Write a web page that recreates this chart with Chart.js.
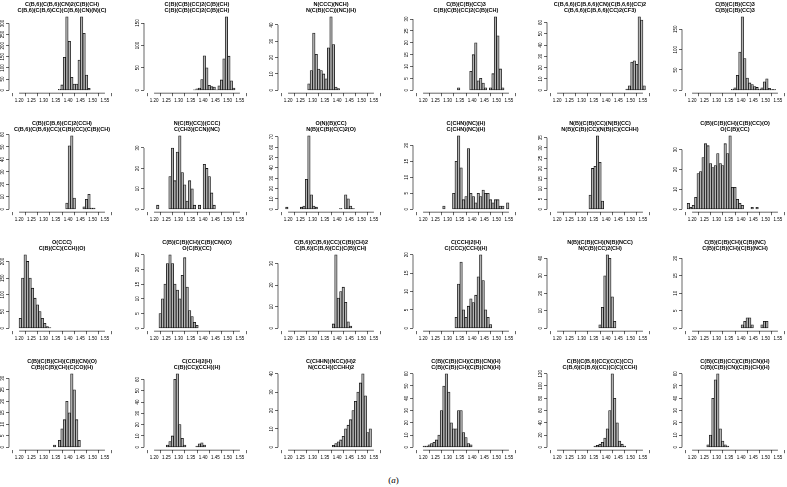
<!DOCTYPE html>
<html>
<head>
<meta charset="utf-8">
<script src="https://cdn.jsdelivr.net/npm/chart.js@4.4.0/dist/chart.umd.min.js"></script>
<style>
  html, body { margin: 0; padding: 0; background: #fff; }
  body { width: 787px; height: 487px; overflow: hidden; position: relative; }
  .panel { position: absolute; width: 134px; height: 118px; }
  #tag { position: absolute; left: 0; top: 475px; width: 787px; text-align: center;
         font: 9px "Liberation Serif", serif; color: #000; }
</style>
</head>
<body>
<div id="tag">(<i>a</i>)</div>
<script>
// bond length axis, bins are 0.01 wide
const xTicks = [1.20, 1.25, 1.30, 1.35, 1.40, 1.45, 1.50, 1.55];
const binWidth = 0.01;

const titles = [
  ['C(B,6)(C(B,6)(CN)2(C(B)(CH)', 'C(B,6)(C(B,6)CC)(C(B,6)(CN)(N)(C)'],
  ['C(B)(C(B)(CC)2(C(B)(CH)', 'C(B)(C(B)(CC)2(C(B)(CH)'],
  ['N(CCC)(NCH)', 'N(C(B)(CC))(NC)(H)'],
  ['C(B)(C(B)(CC)3', 'C(B)(C(B)(CC)2(C(B)(CH)'],
  ['C(B,6,6)(C(B,6,6)(CN)(C(B,6,6)(CC)2', 'C(B,6,6)(C(B,6,6)(CC)2(CF3)'],
  ['C(B)(C(B)(CC)3', 'C(B)(C(B)(CC)3'],
  ['C(B)(C(B,6)(CC)2(CCH)', 'C(B,6)(C(B,6)(CC)(C(B)(CC)(C(B)(CH)'],
  ['N(C(B)(CC))(CCC)', 'C(CH3)(CCN)(NC)'],
  ['O(N)(B)(CC)', 'N(B)(C(B)(C(C)2(O)'],
  ['C(CHN)(NC)(H)', 'C(CHN)(NC)(H)'],
  ['N(B)(C(B)(CC)(N(B)(CC)', 'N(B)(C(B)(CC)(N(B)(C)(CCHH)'],
  ['C(B)(C(B)(CH)(C(B)(CC)(O)', 'O(C(B)(CC)'],
  ['O(CCC)', 'C(B)(CC)(CCH)(O)'],
  ['C(B)(C(B)(CH)(C(B)(CN)(O)', 'O(C(B)(CC)'],
  ['C(B,6)(C(B,6)(CC)(C(B)(CH)2', 'C(B,6)(C(B,6)(CC)(C(B)(CH)'],
  ['C(CCH)2(H)', 'C(CCC)(CCH)(H)'],
  ['N(B)(C(B)(CH)(N(B)(NCC)', 'N(C(B)(CC)2(CH)'],
  ['C(B)(C(B)(CH)(C(B)(NC)', 'C(B)(C(B)(CH)(C(B)(NCH)'],
  ['C(B)(C(B)(CH)(C(B)(CN)(O)', 'C(B)(C(B)(CH)(C(CO)(H)'],
  ['C(CCH)2(H)', 'C(B)(CC)(CCH)(H)'],
  ['C(CHHN)(NCC)(H)2', 'N(CCCH)(CCHH)2'],
  ['C(B)(C(B)(CH)(C(B)(CN)(H)', 'C(B)(C(B)(CH)(C(B)(CN)(H)'],
  ['C(B)(C(B,6)(CC)(C(C)(CC)', 'C(B,6)(C(B,6)(CC)(C(C)(CCH)'],
  ['C(B)(C(B)(CC)(C(B)(CN)(H)', 'C(B)(C(B)(CN)(C(B)(CH)(H)']
];

// left edge of the first bin of each panel
const binStarts = [
  1.36, 1.36, 1.28, 1.34, 1.48, 1.36,
  1.39, 1.21, 1.19, 1.28, 1.33, 1.18,
  1.20, 1.22, 1.38, 1.33, 1.37, 1.40,
  1.34, 1.25, 1.38, 1.20, 1.35, 1.26
];

// y tick labels of each panel
const yTicks = [
  [0, 50, 100, 150, 200, 250, 300], [0, 50, 100, 150], [0, 10, 20, 30, 40],
  [0, 5, 10, 15, 20, 25, 30], [0, 10, 20, 30, 40, 50, 60], [0, 50, 100, 150],
  [0, 10, 20, 30, 40, 50, 60], [0, 10, 20, 30], [0, 10, 20, 30, 40, 50, 60, 70],
  [0, 5, 10, 15, 20], [0, 5, 10, 15, 20, 25, 30, 35], [0, 10, 20, 30],
  [0, 50, 100, 150, 200], [0, 5, 10, 15, 20, 25], [0, 10, 20, 30],
  [0, 5, 10, 15, 20], [0, 10, 20, 30, 40], [0, 5, 10, 15, 20],
  [0, 5, 10, 15, 20, 25, 30], [0, 10, 20, 30, 40, 50, 60], [0, 10, 20, 30, 40],
  [0, 10, 20, 30, 40, 50, 60], [0, 20, 40, 60, 80, 100, 120], [0, 10, 20, 30, 40, 50, 60]
];

// y range top where it is not the largest visible count (null = largest count)
const yLimits = [
  null, null, null, null, null, null,
  null, null, null, null, null, null,
  null, null, null, null, null, 21,
  null, null, null, null, null, null
];

// counts per bin
const p01 = [4, 24, 148, 330, 220, 58, 28, 28, 136, 330, 256, 68, 9];
const p02 = [1, 3, 5, 24, 77, 50, 11, 8, 7, 1, 10, 23, 70, 164, 76, 21, 5];
const p03 = [4, 12, 35, 22, 13, 12, 10, 7, 26, 45, 28, 2, 1];
const p04 = [1, 0, 0, 0, 0, 8, 15, 20, 4, 5, 3, 1, 0, 1, 7, 31, 23, 9, 1];
const p05 = [1, 4, 25, 26, 23, 65, 62, 4];
const p06 = [2, 6, 37, 94, 181, 78, 30, 18, 14, 9, 7, 2, 6, 21, 28, 5, 2, 2];
const p07 = [5, 51, 59, 9, 0, 0, 0, 2, 8, 12, 1, 1];
const p08 = [2, 0, 0, 0, 0, 16, 30, 14, 28, 36, 18, 12, 4, 14, 10, 2, 0, 2, 0, 22, 20, 16, 8, 2];
const p09 = [2, 0, 0, 0, 0, 0, 2, 3, 29, 71, 14, 3, 2, 0, 0, 0, 0, 0, 0, 0, 0, 0, 1, 0, 14, 10, 3, 1];
const p10 = [1, 0, 0, 0, 5, 15, 23, 13, 3, 4, 19, 5, 4, 2, 5, 4, 6, 5, 5, 3, 2, 3, 3, 1, 1, 0, 2];
const p11 = [7, 20, 21, 36, 23, 4];
const p12 = [3, 1, 2, 6, 18, 19, 26, 33, 32, 23, 21, 22, 28, 23, 22, 33, 28, 37, 11, 11, 5, 3, 2, 0, 0, 0, 1, 0, 1];
const p13 = [30, 150, 220, 200, 150, 120, 90, 70, 50, 30, 15, 5, 2];
const p14 = [5, 10, 15, 22, 25, 22, 15, 13, 10, 18, 24, 14, 6, 4, 2, 1];
const p15 = [2, 34, 14, 17, 19, 12, 3, 1];
const p16 = [3, 12, 18, 5, 3, 6, 8, 7, 9, 14, 20, 13, 5, 3, 1];
const p17 = [2, 12, 30, 42, 40, 18, 4];
const p18 = [1, 2, 3, 3, 1, 0, 0, 0, 1, 2, 2];
const p19 = [1, 0, 3, 8, 12, 20, 15, 32, 25, 12, 3];
const p20 = [2, 5, 10, 60, 65, 20, 8, 2, 0, 0, 0, 0, 1, 3, 4, 2];
const p21 = [1, 2, 3, 4, 6, 10, 12, 15, 20, 25, 30, 35, 40, 28, 8, 10];
const p22 = [1, 1, 2, 3, 4, 6, 10, 30, 50, 60, 45, 20, 15, 15, 30, 30, 12, 8, 3, 2];
const p23 = [2, 3, 5, 8, 15, 30, 60, 120, 80, 40, 10, 5, 2];
const p24 = [2, 10, 40, 55, 60, 15, 5, 2, 1];

const panelCounts = [p01, p02, p03, p04, p05, p06, p07, p08, p09, p10, p11, p12,
                     p13, p14, p15, p16, p17, p18, p19, p20, p21, p22, p23, p24];

const FONT = '"Liberation Sans", Arial, sans-serif';

// R style axes: lines only between first and last tick, rotated y labels
const rAxes = {
  id: 'rAxes',
  afterDraw(chart) {
    const { ctx, chartArea, scales: { x, y } } = chart;
    const xt = x.ticks, yt = y.ticks;
    ctx.save();
    ctx.strokeStyle = '#000';
    ctx.lineWidth = 0.6;
    ctx.beginPath();
    ctx.moveTo(x.getPixelForValue(xt[0].value), chartArea.bottom);
    ctx.lineTo(x.getPixelForValue(xt[xt.length - 1].value), chartArea.bottom);
    ctx.moveTo(chartArea.left, y.getPixelForValue(yt[0].value));
    ctx.lineTo(chartArea.left, y.getPixelForValue(yt[yt.length - 1].value));
    ctx.stroke();
    ctx.fillStyle = '#000';
    ctx.font = '4.5px ' + FONT;
    ctx.textAlign = 'center';
    ctx.textBaseline = 'middle';
    yt.forEach(t => {
      ctx.save();
      ctx.translate(chartArea.left - 6.5, y.getPixelForValue(t.value));
      ctx.rotate(-Math.PI / 2);
      ctx.fillText(String(t.value), 0, 0);
      ctx.restore();
    });
    ctx.restore();
  }
};

panelCounts.forEach((counts, k) => {
  const col = k % 6, row = Math.floor(k / 6);
  const div = document.createElement('div');
  div.className = 'panel';
  div.style.left = (-3 + 134.6 * col) + 'px';
  div.style.top = (119 * row) + 'px';
  const canvas = document.createElement('canvas');
  canvas.width = 134;
  canvas.height = 118;
  div.appendChild(canvas);
  document.body.appendChild(div);

  const top = yLimits[k] || Math.max(...counts);
  const ticksY = yTicks[k].filter(v => v <= top * 1.04);

  new Chart(canvas, {
    type: 'bar',
    data: {
      datasets: [{
        data: counts.map((c, i) => ({ x: binStarts[k] + (i + 0.5) * binWidth, y: c })),
        backgroundColor: '#b4b4b4',
        borderColor: '#111',
        borderWidth: 0.8,
        borderSkipped: false,
        barPercentage: 1,
        categoryPercentage: 1
      }]
    },
    options: {
      responsive: false,
      animation: false,
      events: [],
      layout: { padding: { top: 0, right: 16, bottom: 0, left: 0 } },
      plugins: {
        legend: { display: false },
        tooltip: { enabled: false },
        title: {
          display: true,
          text: titles[k],
          fullSize: false,
          color: '#000',
          font: { family: FONT, size: 5.5, weight: 'bold', lineHeight: 1.1 },
          padding: { top: 1, bottom: 0.7 }
        }
      },
      scales: {
        x: {
          type: 'linear',
          min: 1.186,
          max: 1.564,
          afterBuildTicks: s => { s.ticks = xTicks.map(v => ({ value: v })); },
          afterFit: s => { s.height = 24.8; },
          border: { display: false },
          grid: { drawOnChartArea: false, drawTicks: true, tickLength: 3, color: '#000', lineWidth: 0.6 },
          ticks: {
            autoSkip: false, maxRotation: 0, padding: 1.5, color: '#000',
            font: { family: FONT, size: 4.5 },
            callback: v => v.toFixed(2)
          }
        },
        y: {
          min: -0.04 * top,
          max: 1.04 * top,
          afterBuildTicks: s => { s.ticks = ticksY.map(v => ({ value: v })); },
          afterFit: s => { s.width = 12; },
          border: { display: false },
          grid: { drawOnChartArea: false, drawTicks: true, tickLength: 3, color: '#000', lineWidth: 0.6 },
          ticks: { display: false }
        }
      }
    },
    plugins: [rAxes]
  });
});
</script>
</body>
</html>
